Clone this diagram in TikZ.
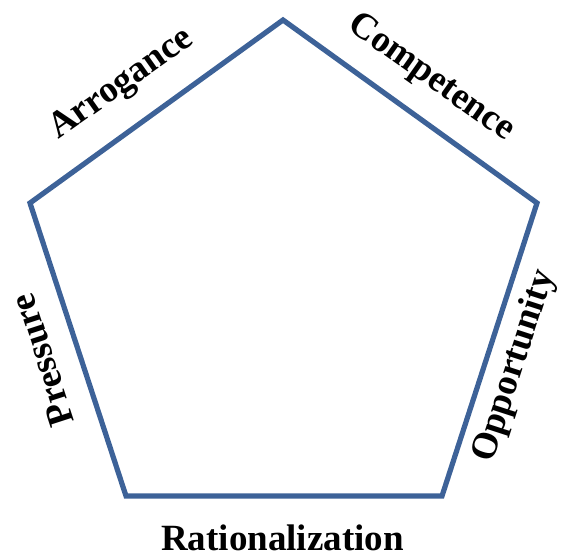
\documentclass[tikz,border=0pt]{standalone}
\usepackage{fontspec}
\setmainfont{Liberation Serif}
\definecolor{edgeblue}{RGB}{61,98,152}
\tikzset{
  edgeline/.style={draw=edgeblue, line width=5.2pt, line join=miter},
  lbl/.style={font=\fontsize{37}{40}\selectfont\bfseries, inner sep=0pt, text=black}
}
\begin{document}
\begin{tikzpicture}[x=1pt,y=-1pt]
\useasboundingbox (0,0) rectangle (561,555);
\coordinate (A) at (283,20);
\coordinate (B) at (537,203);
\coordinate (C) at (442,496);
\coordinate (D) at (126,496);
\coordinate (E) at (30,203);
\draw[edgeline] (A) -- (B) -- (C) -- (D) -- (E) -- cycle;
\node[lbl, anchor=base, rotate=35.3] (arr) at (126.5,91.5) {Arrogance};
\node[lbl, anchor=base, rotate=-35.3] (comp) at (425.9,85) {Competence};
\node[lbl, anchor=center, rotate=108] (pres) at (42.5,360) {Pressure};
\node[lbl, anchor=center, rotate=72] (opp) at (514.5,366.4) {Opportunity};
\node[lbl, anchor=base] (rat) at (282.5,550) {Rationalization};
\end{tikzpicture}
\end{document}
